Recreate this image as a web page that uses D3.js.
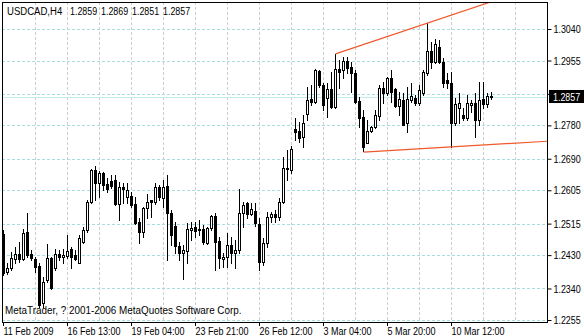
<!DOCTYPE html>
<html>
<head>
<meta charset="utf-8">
<script src="https://cdn.jsdelivr.net/npm/d3@7"></script>
<style>
  body { margin: 0; background: #fff; }
  svg { display: block; }
  text { font-family: "Liberation Sans", Arial, sans-serif; font-size: 11px; fill: #000; }
</style>
</head>
<body>
<svg id="chart"></svg>
<script>
const width = 584;
const height = 336;

// USDCAD H4 candles
const open = [1.2487,1.2384,1.2395,1.2419,1.2433,1.2419,1.2492,1.2433,1.2419,1.2400,
  1.2300,1.2362,1.2422,1.2395,1.2433,1.2424,1.2427,1.2446,1.2430,1.2408,
  1.2465,1.2497,1.2573,1.2659,1.2624,1.2651,1.2622,1.2630,1.2632,1.2568,
  1.2613,1.2586,1.2589,1.2568,1.2519,1.2492,1.2557,1.2578,1.2573,1.2613,
  1.2584,1.2616,1.2543,1.2508,1.2454,1.2435,1.2441,1.2497,1.2505,1.2497,
  1.2500,1.2462,1.2503,1.2535,1.2468,1.2419,1.2424,1.2457,1.2435,1.2443,
  1.2543,1.2570,1.2541,1.2549,1.2514,1.2411,1.2462,1.2532,1.2541,1.2532,
  1.2573,1.2665,1.2659,1.2770,1.2765,1.2748,1.2811,1.2851,1.2843,1.2927,
  1.2889,1.2854,1.2878,1.2829,1.2932,1.2929,1.2954,1.2937,1.2921,1.2846,
  1.2802,1.2732,1.2765,1.2775,1.2805,1.2881,1.2867,1.2908,1.2878,1.2832,
  1.2848,1.2786,1.2848,1.2854,1.2840,1.2867,1.2921,1.2981,1.2951,1.2991,
  1.2951,1.2902,1.2894,1.2786,1.2827,1.2808,1.2800,1.2835,1.2840,1.2794,
  1.2851,1.2838,1.2859];
const high = [1.2497,1.2408,1.2438,1.2451,1.2465,1.2500,1.2543,1.2443,1.2424,1.2408,
  1.2370,1.2460,1.2424,1.2446,1.2443,1.2446,1.2484,1.2451,1.2443,1.2484,
  1.2505,1.2578,1.2662,1.2670,1.2657,1.2654,1.2638,1.2646,1.2646,1.2627,
  1.2624,1.2624,1.2600,1.2586,1.2530,1.2559,1.2595,1.2578,1.2624,1.2619,
  1.2632,1.2646,1.2551,1.2519,1.2465,1.2457,1.2516,1.2519,1.2519,1.2524,
  1.2511,1.2505,1.2538,1.2543,1.2478,1.2435,1.2489,1.2478,1.2470,1.2608,
  1.2573,1.2573,1.2570,1.2570,1.2530,1.2476,1.2546,1.2546,1.2551,1.2584,
  1.2694,1.2713,1.2724,1.2800,1.2789,1.2808,1.2883,1.2889,1.2932,1.2929,
  1.2894,1.2894,1.2924,1.2973,1.2956,1.2964,1.2964,1.2951,1.2929,1.2856,
  1.2821,1.2794,1.2778,1.2821,1.2889,1.2897,1.2910,1.2929,1.2881,1.2870,
  1.2867,1.2883,1.2894,1.2862,1.2889,1.2929,1.3056,1.3005,1.3013,1.3010,
  1.2962,1.2921,1.2924,1.2854,1.2867,1.2827,1.2862,1.2848,1.2867,1.2897,
  1.2897,1.2867,1.2869];
const low = [1.2376,1.2378,1.2389,1.2408,1.2411,1.2416,1.2424,1.2416,1.2384,1.2289,
  1.2289,1.2357,1.2338,1.2389,1.2416,1.2408,1.2422,1.2395,1.2416,1.2408,
  1.2462,1.2492,1.2570,1.2578,1.2586,1.2605,1.2600,1.2611,1.2565,1.2524,
  1.2570,1.2570,1.2559,1.2514,1.2462,1.2478,1.2530,1.2532,1.2568,1.2578,
  1.2559,1.2416,1.2457,1.2435,1.2416,1.2365,1.2408,1.2470,1.2478,1.2484,
  1.2460,1.2460,1.2497,1.2389,1.2395,1.2397,1.2397,1.2408,1.2395,1.2435,
  1.2505,1.2530,1.2538,1.2508,1.2389,1.2403,1.2451,1.2519,1.2519,1.2524,
  1.2570,1.2632,1.2651,1.2740,1.2735,1.2721,1.2794,1.2835,1.2840,1.2883,
  1.2821,1.2802,1.2827,1.2827,1.2881,1.2908,1.2921,1.2870,1.2840,1.2775,
  1.2711,1.2732,1.2762,1.2773,1.2794,1.2840,1.2862,1.2843,1.2829,1.2808,
  1.2781,1.2762,1.2843,1.2835,1.2835,1.2862,1.2916,1.2935,1.2948,1.2948,
  1.2883,1.2881,1.2722,1.2781,1.2786,1.2794,1.2794,1.2816,1.2748,1.2781,
  1.2827,1.2829,1.2851];
const close = [1.2381,1.2395,1.2422,1.2433,1.2419,1.2489,1.2430,1.2422,1.2397,1.2295,
  1.2357,1.2422,1.2341,1.2433,1.2424,1.2430,1.2441,1.2424,1.2419,1.2476,
  1.2497,1.2573,1.2659,1.2624,1.2651,1.2619,1.2608,1.2616,1.2568,1.2613,
  1.2608,1.2605,1.2565,1.2516,1.2492,1.2557,1.2573,1.2573,1.2613,1.2586,
  1.2613,1.2543,1.2484,1.2454,1.2435,1.2443,1.2500,1.2503,1.2495,1.2500,
  1.2465,1.2503,1.2535,1.2465,1.2422,1.2424,1.2457,1.2435,1.2443,1.2543,
  1.2565,1.2541,1.2554,1.2516,1.2411,1.2462,1.2532,1.2541,1.2532,1.2573,
  1.2665,1.2662,1.2716,1.2762,1.2746,1.2786,1.2848,1.2843,1.2929,1.2889,
  1.2835,1.2878,1.2829,1.2932,1.2924,1.2954,1.2935,1.2921,1.2843,1.2800,
  1.2721,1.2765,1.2775,1.2808,1.2881,1.2867,1.2908,1.2870,1.2832,1.2851,
  1.2781,1.2851,1.2859,1.2840,1.2875,1.2924,1.2981,1.2951,1.3000,1.2951,
  1.2894,1.2894,1.2786,1.2838,1.2840,1.2800,1.2840,1.2840,1.2794,1.2848,
  1.2838,1.2859,1.2857];

// Axis labels
const priceTicks = [1.3040, 1.2955, 1.2865, 1.2780, 1.2690, 1.2605, 1.2515, 1.2430, 1.2340, 1.2255];
const dateLabels = ['11 Feb 2009', '16 Feb 13:00', '19 Feb 04:00', '23 Feb 21:00',
  '26 Feb 12:00', '3 Mar 04:00', '5 Mar 20:00', '10 Mar 12:00'];
const dateIndex = [0, 16, 32, 48, 64, 80, 96, 112];

// Trend lines (bar index, price)
const upperTrend = [[83, 1.2973], [106, 1.3056]];
const lowerTrend = [[90, 1.2708], [112, 1.2722]];

const symbol = 'USDCAD,H4';
const lastBar = [1.2859, 1.2869, 1.2851, 1.2857];

const candles = open.map((o, i) => ({ i, o, h: high[i], l: low[i], c: close[i] }));

// Plot frame
const plotLeft = 2, plotRight = 547, plotTop = 2, plotBottom = 322;

const svg = d3.select('#chart')
    .attr('width', width)
    .attr('height', height);

const x = d3.scaleLinear().domain([0, 136]).range([3, 547]);
const y = d3.scaleLinear().domain([1.2255, 1.3040]).range([320, 29]);
const px = v => Math.round(v) + 0.5;
const fmt = d3.format('.4f');

// squeeze Arial-like glyphs down to the narrow terminal font
function squeeze(sel, k) {
    sel.each(function () {
        const t = d3.select(this);
        const tx = +t.attr('x') || 0;
        const ty = +t.attr('y') || 0;
        t.attr('x', 0).attr('y', 0)
            .attr('transform', `translate(${tx},${ty}) scale(${k},1)`);
    });
}

svg.append('defs').append('clipPath').attr('id', 'plot')
    .append('rect')
    .attr('x', plotLeft + 1).attr('y', plotTop + 1)
    .attr('width', plotRight - plotLeft - 1).attr('height', plotBottom - plotTop - 1);

// Grid
const grid = svg.append('g').attr('class', 'grid');
grid.selectAll('.hgrid')
    .data(priceTicks)
    .enter().append('line')
    .attr('x1', plotLeft).attr('x2', plotRight)
    .attr('y1', d => px(y(d))).attr('y2', d => px(y(d)))
    .attr('stroke', '#a8dede')
    .attr('stroke-dasharray', '3,2');
grid.selectAll('.vgrid')
    .data(d3.range(8, 136, 8))
    .enter().append('line')
    .attr('x1', d => x(d) + 0.5).attr('x2', d => x(d) + 0.5)
    .attr('y1', plotTop).attr('y2', plotBottom)
    .attr('stroke', '#cfcfcf')
    .attr('stroke-dasharray', '3,2');

// Bid line
svg.append('line')
    .attr('x1', plotLeft).attr('x2', plotRight)
    .attr('y1', px(y(lastBar[3]))).attr('y2', px(y(lastBar[3])))
    .attr('stroke', '#c4ecec');

// Candles
const plot = svg.append('g').attr('clip-path', 'url(#plot)');
const candleSel = plot.selectAll('.candle')
    .data(candles)
    .enter().append('g')
    .attr('class', 'candle');

candleSel.append('line')
    .attr('x1', d => x(d.i) + 0.5).attr('x2', d => x(d.i) + 0.5)
    .attr('y1', d => Math.round(y(d.h))).attr('y2', d => Math.round(y(d.l)) + 1)
    .attr('stroke', '#000');

candleSel.append('rect')
    .attr('x', d => d.c >= d.o ? x(d.i) - 0.5 : x(d.i) - 1)
    .attr('y', d => d.c >= d.o ? Math.round(y(Math.max(d.o, d.c))) + 0.5 : Math.round(y(d.o)))
    .attr('width', d => d.c >= d.o ? 2 : 3)
    .attr('height', d => {
        const h = Math.round(y(Math.min(d.o, d.c))) - Math.round(y(Math.max(d.o, d.c)));
        return d.c >= d.o ? Math.max(h, 0) : Math.max(h + 1, 1);
    })
    .attr('fill', d => d.c >= d.o ? '#fff' : '#000')
    .attr('stroke', d => d.c >= d.o ? '#000' : 'none');

// Trend lines, drawn as rays to the right edge
function ray(pts) {
    const [a, b] = pts;
    const slope = (b[1] - a[1]) / (b[0] - a[0]);
    const end = x.domain()[1];
    return [[a[0], a[1]], [end, a[1] + slope * (end - a[0])]];
}
const trendLine = d3.line().x(d => x(d[0]) + 0.5).y(d => y(d[1]));
plot.selectAll('.trend')
    .data([upperTrend, lowerTrend])
    .enter().append('path')
    .attr('d', d => trendLine(ray(d)))
    .attr('fill', 'none')
    .attr('stroke', '#ee5a2a')
    .attr('stroke-width', 1.2);

// Axes
const bidY = Math.round(y(lastBar[3]));
const yAxis = d3.axisRight(y)
    .tickValues(priceTicks)
    // the label hidden under the price box is left blank
    .tickFormat(d => Math.abs(y(d) - bidY) < 8 ? '' : fmt(d))
    .tickSize(4)
    .tickPadding(2);
const yAxisG = svg.append('g')
    .attr('transform', `translate(${plotRight + 0.5},0)`)
    .call(yAxis);
yAxisG.select('.domain').remove();
yAxisG.selectAll('text').attr('font-size', 11).attr('font-family', null);
squeeze(yAxisG.selectAll('text'), 0.81);

const xAxis = d3.axisBottom(x)
    .tickValues(dateIndex)
    .tickFormat((d, k) => dateLabels[k])
    .tickSize(4)
    .tickPadding(1);
const xAxisG = svg.append('g')
    .attr('transform', `translate(0,${plotBottom})`)
    .call(xAxis);
xAxisG.select('.domain').remove();
xAxisG.selectAll('text').attr('text-anchor', 'start').attr('font-size', 11).attr('font-family', null);
squeeze(xAxisG.selectAll('text'), 0.82);

// Frame
svg.append('rect')
    .attr('x', plotLeft + 0.5).attr('y', plotTop + 0.5)
    .attr('width', plotRight - plotLeft).attr('height', plotBottom - plotTop)
    .attr('fill', 'none')
    .attr('stroke', '#000');

// Current price box
svg.append('rect')
    .attr('x', plotRight + 2).attr('y', bidY - 7)
    .attr('width', width - plotRight - 2).attr('height', 13)
    .attr('fill', '#000');
svg.append('text')
    .attr('x', plotRight + 6).attr('y', bidY + 4)
    .style('fill', '#fff')
    .text(fmt(lastBar[3]))
    .call(squeeze, 0.81);

// Header and copyright
svg.append('text').attr('x', 7).attr('y', 15).text(symbol).call(squeeze, 0.87);
svg.selectAll('.ohlc')
    .data(lastBar)
    .enter().append('text')
    .attr('x', (d, k) => 70 + 31 * k)
    .attr('y', 15)
    .text(d => fmt(d))
    .call(squeeze, 0.81);
svg.append('text').attr('x', 5).attr('y', 314)
    .text('MetaTrader, ? 2001-2006 MetaQuotes Software Corp.')
    .call(squeeze, 0.9);
</script>
</body>
</html>
